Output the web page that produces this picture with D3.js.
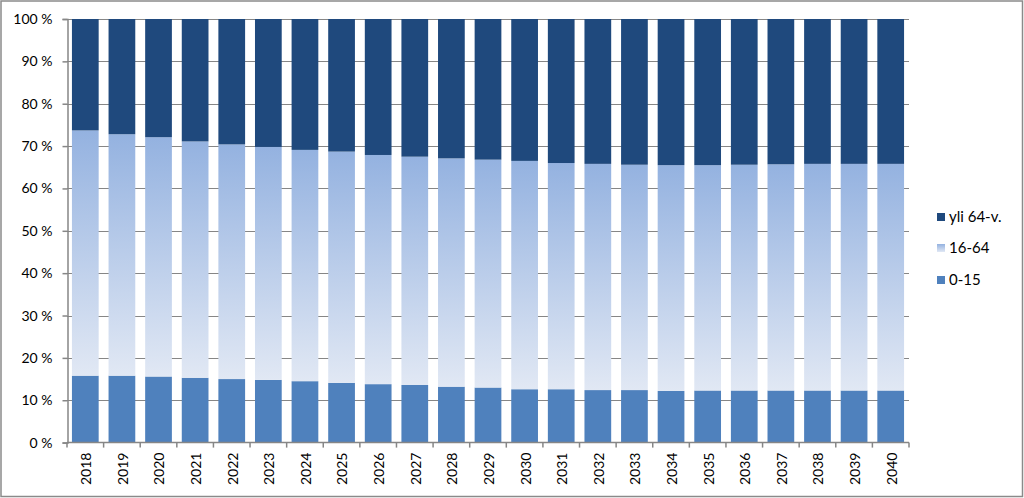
<!DOCTYPE html>
<html>
<head>
<meta charset="utf-8">
<script src="https://cdn.jsdelivr.net/npm/d3@7"></script>
<style>
  body { margin: 0; background: #fff; }
  svg { display: block; }
  text { font-family: Lato, "Liberation Sans", sans-serif; fill: #000; }
</style>
</head>
<body>
<svg id="chart"></svg>
<script>
// Data: shares of population (%) per year
const years = ['2018', '2019', '2020', '2021', '2022', '2023', '2024', '2025', '2026', '2027', '2028', '2029',
  '2030', '2031', '2032', '2033', '2034', '2035', '2036', '2037', '2038', '2039', '2040'];
const age0to15 = [15.8, 15.8, 15.6, 15.3, 15.0, 14.8, 14.5, 14.1, 13.8, 13.6, 13.2, 13.0,
  12.6, 12.6, 12.4, 12.4, 12.2, 12.3, 12.3, 12.3, 12.3, 12.3, 12.3];
const age16to64 = [57.9, 57.0, 56.5, 55.8, 55.4, 55.0, 54.6, 54.6, 54.1, 53.9, 53.9, 53.8,
  53.9, 53.4, 53.4, 53.2, 53.3, 53.2, 53.3, 53.4, 53.5, 53.5, 53.5];
const age65plus = [26.3, 27.2, 27.9, 28.9, 29.6, 30.2, 30.9, 31.3, 32.1, 32.5, 32.9, 33.2,
  33.5, 34.0, 34.2, 34.4, 34.5, 34.5, 34.4, 34.3, 34.2, 34.2, 34.2];
const seriesNames = ['0-15', '16-64', 'yli 64-v.'];
const yTicks = [0, 0.1, 0.2, 0.3, 0.4, 0.5, 0.6, 0.7, 0.8, 0.9, 1];

const width = 1024;
const height = 498;
const plotLeft = 67;
const plotRight = 909;
const plotTop = 19;
const plotBottom = 442.6;
const axisColor = '#868686';

const svg = d3.select('#chart')
  .attr('width', width)
  .attr('height', height);

// gradient for the middle series (per bar, light blue to almost white)
const defs = svg.append('defs');
const grad = defs.append('linearGradient')
  .attr('id', 'midGrad')
  .attr('x1', 0).attr('y1', 0).attr('x2', 0).attr('y2', 1);
grad.append('stop').attr('offset', '0%').attr('stop-color', '#94b2e0');
grad.append('stop').attr('offset', '100%').attr('stop-color', '#e1e8f4');

const colors = { '0-15': '#4f81bd', '16-64': 'url(#midGrad)', 'yli 64-v.': '#1f497d' };

// outer frame
svg.append('rect')
  .attr('x', 1)
  .attr('y', 1)
  .attr('width', width - 2.5)
  .attr('height', height - 2.5)
  .attr('fill', '#fff')
  .attr('stroke', '#8a8a8a')
  .attr('stroke-width', 1.5);

// build rows, normalise to 100 %
const rows = years.map((year, i) => {
  const total = age0to15[i] + age16to64[i] + age65plus[i];
  return {
    year: year,
    '0-15': age0to15[i] / total,
    '16-64': age16to64[i] / total,
    'yli 64-v.': age65plus[i] / total
  };
});

const stacked = d3.stack().keys(seriesNames)(rows);

const x = d3.scaleBand()
  .domain(years)
  .range([plotLeft, plotRight])
  .paddingInner(0.27)
  .paddingOuter(0.135);

const y = d3.scaleLinear()
  .domain([0, 1])
  .range([plotBottom, plotTop]);

// gridlines behind bars
svg.append('g')
  .selectAll('line')
  .data(yTicks.slice(1))
  .join('line')
  .attr('x1', plotLeft)
  .attr('x2', plotRight)
  .attr('y1', d => Math.round(y(d)) + 0.5)
  .attr('y2', d => Math.round(y(d)) + 0.5)
  .attr('stroke', axisColor)
  .attr('stroke-width', 1);

// bars
svg.append('g')
  .selectAll('g')
  .data(stacked)
  .join('g')
  .attr('fill', d => colors[d.key])
  .selectAll('rect')
  .data(d => d)
  .join('rect')
  .attr('x', d => x(d.data.year))
  .attr('y', d => y(d[1]))
  .attr('width', x.bandwidth())
  .attr('height', d => y(d[0]) - y(d[1]));

// y axis
const yAxis = svg.append('g')
  .attr('transform', `translate(${plotLeft + 0.5},0)`)
  .call(d3.axisLeft(y)
    .tickValues(yTicks)
    .tickSize(5)
    .tickPadding(10)
    .tickFormat(d => Math.round(d * 100) + ' %'));
yAxis.select('.domain').attr('stroke', axisColor).attr('stroke-width', 1.5);
yAxis.selectAll('.tick line').attr('stroke', axisColor).attr('stroke-width', 1.5);
yAxis.selectAll('.tick text')
  .attr('font-size', 14)
  .attr('fill', '#000')
  .style('font-family', 'Lato, "Liberation Sans", sans-serif');

// x axis line and ticks at category boundaries
const step = x.step();
const boundaries = d3.range(years.length + 1).map(i => plotLeft + i * step);
svg.append('line')
  .attr('x1', plotLeft)
  .attr('x2', plotRight)
  .attr('y1', plotBottom)
  .attr('y2', plotBottom)
  .attr('stroke', axisColor)
  .attr('stroke-width', 1.5);
svg.append('g')
  .selectAll('line')
  .data(boundaries)
  .join('line')
  .attr('x1', d => d)
  .attr('x2', d => d)
  .attr('y1', plotBottom)
  .attr('y2', plotBottom + 5)
  .attr('stroke', axisColor)
  .attr('stroke-width', 1.5);

// rotated year labels
svg.append('g')
  .selectAll('text')
  .data(years)
  .join('text')
  .attr('transform', d => `translate(${x(d) + x.bandwidth() / 2 + 1},${plotBottom + 10}) rotate(-90)`)
  .attr('text-anchor', 'end')
  .attr('dy', '0.35em')
  .attr('font-size', 14)
  .text(d => d);

// legend (top series first)
const legendItems = [
  { name: 'yli 64-v.', y: 217 },
  { name: '16-64', y: 248 },
  { name: '0-15', y: 280 }
];
const legend = svg.append('g')
  .selectAll('g')
  .data(legendItems)
  .join('g')
  .attr('transform', d => `translate(937,${d.y})`);
legend.append('rect')
  .attr('x', 0)
  .attr('y', -4)
  .attr('width', 8)
  .attr('height', 8)
  .attr('fill', d => colors[d.name]);
legend.append('text')
  .attr('x', 12)
  .attr('dy', '0.35em')
  .attr('font-size', 15)
  .text(d => d.name);
</script>
</body>
</html>
